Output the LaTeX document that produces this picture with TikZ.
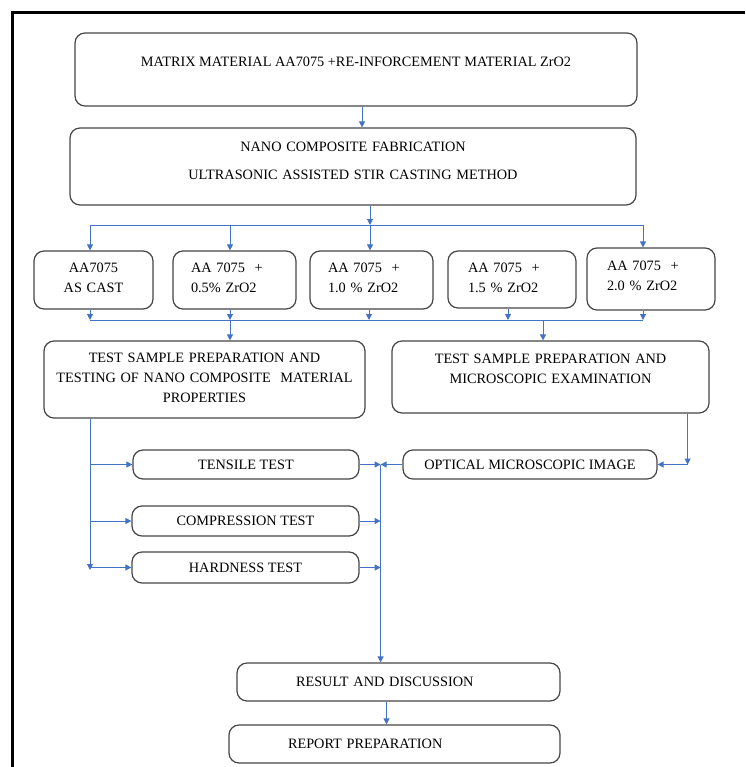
\documentclass[tikz,border=0pt]{standalone}
\usepackage{fontspec}
\setmainfont{Liberation Serif}
\usetikzlibrary{positioning,calc,arrows.meta}
\definecolor{flowblue}{HTML}{4472C4}
\definecolor{boxgray}{HTML}{454545}

\begin{document}
\begin{tikzpicture}[x=1pt,y=-1pt,
  box/.style={draw=boxgray, line width=1.2pt, rounded corners=10pt, inner sep=0pt,
    font=\fontsize{14.3}{20}\selectfont},
  flow/.style={flowblue, line width=1pt, -{Triangle[length=6pt,width=6pt]}},
  line/.style={flowblue, line width=1pt}]
\useasboundingbox (0,0) rectangle (745,767);
\draw[line width=3pt] (745,13) -- (12,13) -- (12,767);

\node[box, minimum width=562, minimum height=73, text height=10, text depth=15] (mat) at (356,69.5)
  {MATRIX MATERIAL AA7075 +RE-INFORCEMENT MATERIAL ZrO2};
\node[box, text width=566, align=center, minimum height=77, text height=10, text depth=39,
  font=\fontsize{14.3}{28}\selectfont] (fab) at (353,166.5)
  {NANO COMPOSITE FABRICATION\\ ULTRASONIC ASSISTED STIR CASTING METHOD};

\node[box, text width=119, align=center, minimum height=58, text height=10, text depth=26] (b1) at (93.5,280) {AA7075\\ AS CAST};
\node[box, inner xsep=18, text width=87, align=left, minimum height=58, text height=10, text depth=26] (b2) at (234.5,280) {AA 7075~ +\\ 0.5\% ZrO2};
\node[box, inner xsep=18, text width=87, align=left, minimum height=58, text height=10, text depth=26] (b3) at (371.5,280) {AA 7075~ +\\ 1.0 \% ZrO2};
\node[box, inner xsep=20, text width=88, align=left, minimum height=57, text height=10, text depth=25] (b4) at (512,279.5) {AA 7075~ +\\ 1.5 \% ZrO2};
\node[box, inner xsep=20, text width=88, align=left, minimum height=62, text height=10, text depth=28] (b5) at (651,279) {AA 7075~ +\\ 2.0 \% ZrO2};

\node[box, text width=321, align=center, minimum height=77, text height=10, text depth=45] (ltest) at (204.5,379.5)
  {TEST SAMPLE PREPARATION AND\\ TESTING OF NANO COMPOSITE~ MATERIAL\\ PROPERTIES};
\node[box, text width=317, align=center, minimum height=72, text height=10, text depth=38] (rtest) at (550.5,377)
  {TEST SAMPLE PREPARATION AND\\ MICROSCOPIC EXAMINATION};

\node[box, minimum width=226, minimum height=29] (tens) at (246,464.5) {TENSILE TEST};
\node[box, minimum width=254, minimum height=29] (opt) at (530,464.5) {OPTICAL MICROSCOPIC IMAGE};
\node[box, minimum width=227, minimum height=30] (comp) at (245.5,521) {COMPRESSION TEST};
\node[box, minimum width=227, minimum height=31] (hard) at (245.5,567.5) {HARDNESS TEST};

\node[box, inner xsep=59, text width=205, align=left, minimum height=38] (res) at (398.5,682) {RESULT AND DISCUSSION};
\node[box, inner xsep=59, text width=213, align=left, minimum height=38] (rep) at (394.5,744) {REPORT PREPARATION};

% split and gather lines
\coordinate (split) at (370,225);
\coordinate (s1) at (90,225);
\coordinate (s2) at (230,225);
\coordinate (s5) at (643,225);
\coordinate (g1) at (90,320);
\coordinate (g2) at (230,320);
\coordinate (g3) at (369,320);
\coordinate (g4) at (508,320);
\coordinate (g5) at (643,320);
\coordinate (g6) at (543,320);
\coordinate (lv) at (90,570);
\coordinate (cv) at ([xshift=21]tens.east);
\coordinate (rv) at ([xshift=30]opt.east);

\path[flow] ([xshift=6]mat.south) edge ([xshift=6]mat.south |- fab.north);
\path[flow] (split |- fab.south) edge (split);
\path[line] (s1) edge (s5);
\path[flow] (s1) edge (s1 |- b1.north)
            (s2) edge (s2 |- b2.north)
            (split) edge (split |- b3.north)
            (s5) edge (s5 |- b5.north);

\path[flow] (g1 |- b1.south) edge (g1)
            (g2 |- b2.south) edge (g2)
            (g3 |- b3.south) edge (g3)
            (g4 |- b4.south) edge (g4)
            (g5 |- b5.south) edge (g5);
\path[line] (g1) edge (g5);
\path[flow] (g2) edge (g2 |- ltest.north)
            (g6) edge (g6 |- rtest.north);

\path[flow] (lv |- ltest.south) edge (lv);
\path[flow] (lv |- tens) edge (tens.west)
            (lv |- comp) edge (comp.west)
            (lv |- hard) edge (hard.west);

\path[flow] (tens.east) edge (cv)
            (opt.west) edge (cv)
            (comp.east) edge (cv |- comp)
            (hard.east) edge (cv |- hard);
\path[flow] (cv) edge (cv |- res.north);

\path[flow] (rv |- rtest.south) edge (rv);
\path[flow] (rv) edge (opt.east);

\path[flow] ([xshift=-12]res.south) edge ([xshift=-12]res.south |- rep.north);
\end{tikzpicture}
\end{document}
